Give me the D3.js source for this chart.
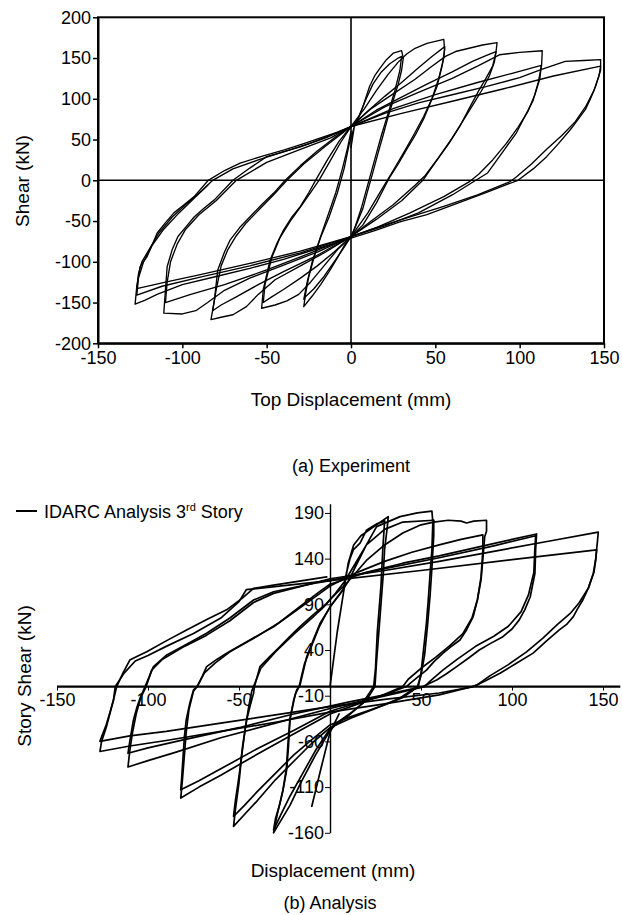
<!DOCTYPE html>
<html>
<head>
<meta charset="utf-8">
<script src="https://cdn.jsdelivr.net/npm/d3@7"></script>
<style>
  html, body { margin: 0; padding: 0; background: #fff; }
  svg { display: block; }
  text { font-family: Arial, "Liberation Sans", Helvetica, sans-serif; fill: #000; }
</style>
</head>
<body>
<svg id="chart" width="622" height="915"></svg>
<script>
// ---------- (a) Experiment: tick values ----------
const expXTicks = [-150, -100, -50, 0, 50, 100, 150];
const expYTicks = [-200, -150, -100, -50, 0, 50, 100, 150, 200];

// ---------- (a) Experiment: hysteresis cycles [displacement mm, shear kN] ----------
const expCycle1 = [[0,40],[2,66],[4,74],[7,90],[11,115],[14,128],[17,137],[21,148],[25,156],[30,159],[31,150],[30,135],[28,118],[25,98],[22,78],[19,55],[16,33],[13,10],[10,-12],[7,-35],[3,-55],[0,-69],[-4,-80],[-8,-95],[-13,-112],[-18,-128],[-23,-142],[-28,-155],[-27,-140],[-25,-118],[-22,-95],[-18,-70],[-13,-45],[-8,-15],[-4,15],[-1,45],[2,66]];
const expCycle2 = [[2,66],[5,80],[9,100],[13,118],[18,133],[23,143],[28,150],[30,152],[29,135],[26,110],[22,82],[18,55],[14,25],[10,-5],[6,-35],[2,-60],[0,-69],[-5,-85],[-10,-100],[-16,-118],[-22,-133],[-27,-143],[-28,-146],[-26,-125],[-23,-100],[-19,-75],[-14,-45],[-9,-15],[-5,15],[-2,40],[0,60]];
const expCycle3 = [[0,66],[8,88],[15,110],[22,130],[28,145],[33,155],[38,162],[45,168],[55,173],[55.5,160],[54,140],[51,115],[47,95],[43,75],[38,55],[33,38],[28,20],[23,4],[15,-28],[7,-55],[0,-69],[-8,-85],[-16,-105],[-24,-125],[-31,-140],[-38,-148],[-45,-153],[-53,-157],[-52,-134],[-48,-98],[-44,-78],[-40,-61],[-35,-45],[-30,-32],[-25,-15],[-21,0],[-14,25],[-7,48],[0,66]];
const expCycle4 = [[0,66],[10,85],[20,103],[30,120],[40,138],[48,152],[55.6,164],[55,150],[52,125],[48,100],[43,78],[37,55],[31,33],[25,12],[18,-12],[10,-40],[0,-69],[-10,-88],[-20,-105],[-30,-120],[-40,-134],[-47,-143],[-52,-150],[-51,-128],[-47,-95],[-42,-70],[-36,-50],[-30,-33],[-24,-15],[-19,0],[-12,25],[-6,47],[0,66]];
const expCycle5 = [[0,66],[12,88],[25,106],[38,124],[48,140],[56,152],[62,158],[70,162],[78,166],[86.6,169],[86,158],[84,140],[80,125],[76,111],[70,88],[64.5,66],[58,45],[50,22],[42.6,0],[30,-25],[15,-48],[0,-69],[-15,-88],[-30,-105],[-45,-122],[-55,-140],[-62,-155],[-70,-165],[-77,-168],[-83,-171],[-81,-147],[-79,-110],[-75,-88],[-71.6,-73],[-66,-58],[-60,-45],[-53,-30],[-46,-16],[-39,0],[-30,18],[-20,36],[-10,52],[0,66]];
const expCycle6 = [[0,66],[15,86],[30,102],[45,118],[60,133],[72,146],[80,153],[86,158],[85,145],[82,128],[78,112],[73,95],[67,75],[60,52],[52,28],[44,6],[38,-6],[25,-30],[12,-50],[0,-69],[-20,-92],[-40,-112],[-55,-128],[-68,-143],[-77,-153],[-82,-160],[-80,-135],[-77,-105],[-73,-85],[-68,-68],[-62,-52],[-54,-35],[-46,-18],[-38,0],[-28,20],[-15,42],[0,66]];
const expCycle7 = [[0,66],[20,90],[40,108],[60,125],[75,140],[88,154],[100,157],[113.4,159],[113,141],[111,120],[108,98],[103,78],[98,58],[90,35],[81,9],[74,0],[60,-18],[40,-40],[20,-56],[0,-69],[-20,-88],[-40,-104],[-60,-120],[-75,-135],[-85,-150],[-92,-160],[-100,-164],[-111,-163],[-110,-134],[-109,-106],[-106,-85],[-102.6,-69],[-97,-55],[-93,-45],[-87,-34],[-81,-24],[-70,0],[-60,15],[-50,29],[-30,41],[-15,52],[0,66]];
const expCycle8 = [[0,66],[25,88],[50,105],[75,120],[95,131],[112.8,141],[112,125],[109,105],[105,85],[99,65],[92,45],[84,25],[76,8],[70,-2],[55,-20],[35,-40],[15,-58],[0,-69],[-25,-90],[-50,-110],[-75,-128],[-95,-140],[-110,-150],[-109,-125],[-107,-100],[-103,-78],[-98,-60],[-90,-42],[-80,-25],[-68,0],[-50,22],[-30,38],[-12,52],[0,66]];
const expCycle9 = [[0,66],[20,82],[40,95],[60,105],[80,115],[100,126],[113,136],[127,146],[138,147],[148,148],[148,135],[145,115],[142,100],[139,87],[134,73],[130,62],[123,45],[116,29],[108,14],[99,0],[80,-15],[64.5,-27],[45,-42],[29,-51],[15,-61],[0,-71],[-20,-84],[-40,-97],[-60,-108],[-80,-118],[-100,-128],[-115,-140],[-122,-147],[-128,-152],[-127,-130],[-125,-106],[-121,-94],[-118,-80],[-115,-65],[-110,-52],[-105,-40],[-99,-30],[-93,-20],[-84.6,0],[-75,12],[-65.7,21],[-52,30],[-40,37],[-28,45],[-18,52],[-8,59],[0,66]];
const expCycle10 = [[0,66],[30,82],[60,97],[90,112],[120,128],[148,140],[147,128],[144,110],[139,90],[133,72],[125,55],[116,38],[107,20],[98,4],[94,-2],[75,-18],[55,-32],[35,-45],[15,-58],[0,-69],[-30,-87],[-60,-102],[-90,-116],[-110,-125],[-127,-133],[-126,-115],[-124,-100],[-120,-86],[-114,-65],[-106,-45],[-97,-28],[-88,-12],[-82,0],[-70,14],[-55,25],[-40,35],[-25,45],[-10,57],[0,66]];
const expCycle11 = [[0,-69],[-30,-89],[-60,-105],[-90,-119],[-112,-130],[-127,-141],[-126,-120],[-123,-100],[-118,-80],[-111,-60],[-102,-40],[-93,-22],[-85,-6]];
const expCycles = [expCycle1, expCycle2, expCycle3, expCycle4, expCycle5, expCycle6, expCycle7, expCycle8, expCycle9, expCycle10, expCycle11];

// ---------- (b) Analysis: tick values ----------
const anaXTicks = [-150, -100, -50, 50, 100, 150];
const anaYTicks = [190, 140, 90, 40, -10, -60, -110, -160];

// ---------- (b) Analysis: hysteresis cycles [displacement mm, story shear kN] ----------
const anaCycle1 = [[0,0],[2,30],[4,60],[6,85],[8,110],[10,135],[13,155],[17,165],[22,172],[27,179],[32,186],[31.5,175],[30,150],[29.3,124],[28,90],[26.5,51],[25.5,25],[24.7,0],[20,-15],[12,-28],[5,-38],[0,-46],[-8,-70],[-15,-95],[-22,-120],[-27,-140],[-31,-157],[-30,-145],[-27.5,-128],[-25.5,-110],[-23.8,-91],[-22.8,-65],[-22,-36.5],[-20,-15],[-18.3,-3.7],[-16.5,1.4],[-12.8,32.7],[-9,52],[-5.5,69],[0,87],[4,98],[7.3,106],[9,124],[11,140],[12.8,149.5],[16.5,157],[20,171],[25.6,178],[30,181]];
const anaCycle2 = [[30,181],[29,150],[28,110],[26,60],[25,20],[24,0],[18,-18],[10,-32],[3,-42],[0,-48],[-8,-75],[-16,-105],[-22,-130],[-28,-150],[-31,-160],[-29,-140],[-26,-115],[-24,-90],[-23,-60],[-22,-35],[-19,-8],[-17,0],[-14,25],[-10,45],[-6,65],[-2,80],[0,87]];
const anaCycle3 = [[0,87],[5,100],[10,115],[15,135],[20,155],[25.6,175],[38.5,186],[48,190],[56,192],[56.5,180],[56,150],[55,124],[54,95],[53,70],[51,33],[50,15],[48.5,0],[40,-12],[30,-20],[20,-27],[10,-34],[0,-42],[-10,-58],[-20,-75],[-30,-95],[-40,-115],[-47,-130],[-53,-142],[-52,-125],[-50.5,-105],[-49.5,-91],[-48,-65],[-45.8,-36.5],[-43.5,-18],[-42,-7.3],[-41.5,0],[-38.5,21.8],[-33,33],[-27.5,43.7],[-22,55],[-16.5,65.5],[-9,79],[-1.8,91],[3,102],[8,115],[14,135],[20,155],[30,172],[40,180],[57,182]];
const anaCycle4 = [[57,182],[57,165],[56,130],[55,100],[53.5,65],[52,35],[50,12],[48,0],[38,-13],[25,-24],[12,-34],[0,-45],[-10,-62],[-20,-82],[-30,-102],[-40,-125],[-47,-140],[-53,-153],[-52,-135],[-50,-105],[-48.5,-75],[-46.5,-45],[-44.5,-20],[-43,-5],[-42,0],[-38,20],[-30,38],[-20,57],[-10,75],[-3,88],[0,95]];
const anaCycle5 = [[0,95],[10,115],[20,138],[30,155],[40,168],[50,177],[57,180],[65,182],[72,181],[75,179],[79,181],[86,182],[86,170],[85,164],[84,140],[83,117],[81,95],[78.7,76.5],[75,62],[71.4,51],[66,43],[62,36.4],[57,27],[53,18],[48,10],[44,3.6],[42,0],[30,-9],[15,-18],[0,-27],[-20,-48],[-40,-68],[-60,-90],[-72,-103],[-82,-113],[-81.5,-100],[-80.6,-73],[-80,-55],[-79,-36.5],[-77,-18],[-75,-3.7],[-73,0],[-70,12],[-67.8,21.8],[-62,30],[-56.8,36.4],[-45,50],[-31,65.5],[-18,84],[-5.5,102],[0,110]];
const anaCycle6 = [[0,110],[15,125],[30,137],[45,147],[60,155],[72,161],[84,166],[84,150],[83,120],[81,95],[78,75],[73,58],[66,45],[58,32],[50,20],[43,8],[40,0],[28,-10],[14,-20],[0,-30],[-20,-52],[-40,-74],[-60,-97],[-72,-110],[-82,-122],[-81,-100],[-80,-75],[-79,-50],[-77.5,-25],[-75,-5],[-73,0],[-69,15],[-63,26],[-55,38],[-40,55],[-28,70],[-15,90],[-5,105],[0,112]];
const anaCycle7 = [[0,112],[20,125],[40,135],[60,143],[80,152],[100,161],[113.5,167],[113,150],[112.6,124],[110,98],[107,84],[104,73],[100,63],[95,54.6],[88,47],[82,40],[76,31],[69.6,21.8],[64,14],[58.6,7.2],[51,0],[30,-9],[10,-17],[-20,-30],[-50,-45],[-80,-58],[-100,-67],[-111,-73],[-110,-60],[-108,-36.5],[-106,-22],[-104,-11],[-101.6,0],[-97,21.8],[-89.7,34.6],[-80,45],[-67.8,58.3],[-55,75],[-42,94.7],[-31,103.8],[-9,113],[0,116]];
const anaCycle8 = [[0,116],[30,129],[60,141],[90,154],[113,165],[112.5,148],[112,125],[109,100],[105,82],[98,66],[90,55],[80,44],[70,30],[62,18],[55,6],[52,0],[35,-8],[15,-17],[0,-24],[-30,-40],[-60,-56],[-85,-72],[-100,-81],[-111,-88],[-110,-70],[-108.5,-50],[-106.5,-30],[-104,-12],[-101,0],[-98,18],[-92,30],[-80,44],[-68,56],[-55,72],[-42,92],[-31,102],[-15,110],[0,118]];
const anaCycle9 = [[0,118],[30,127],[60,137],[90,148],[120,159],[147.4,169],[147,160],[146,140],[144.7,124],[142,108],[139,95],[136,85],[133.7,76.5],[130,68],[126,62],[119,50],[111.6,36.6],[102,25],[93.4,14.6],[86,7],[79,0],[60,-7],[30,-14],[0,-22],[-30,-31],[-60,-40],[-90,-49],[-110,-54],[-126.4,-60],[-125.5,-55],[-123,-42],[-121,-29],[-119,-15],[-117.2,0],[-114,14],[-110,29],[-105,34],[-100.7,38],[-90,50],[-78.8,62],[-68,73],[-56.8,84],[-48,97],[-42,107.5],[-31,111],[-15,116],[-1.8,120]];
const anaCycle10 = [[-46,106],[0,116],[50,127],[100,139],[146.5,149.5],[146,138],[145,125],[142,108],[137,92],[132,80],[125,68],[117,53],[108,38],[98,24],[88,12],[81,2],[78,0],[60,-9],[30,-19],[0,-28],[-30,-39],[-60,-49],[-90,-59],[-110,-65],[-126.4,-71],[-125.5,-60],[-123,-45],[-121,-30],[-119,-15],[-118,0],[-113,15],[-107,28],[-100,34],[-90,44],[-75,58],[-60,75],[-50,93],[-46,106]];
const anaCycle11 = [[5,-30],[0,-50],[-5,-90],[-10,-131]];
const anaCycles = [anaCycle1, anaCycle2, anaCycle3, anaCycle4, anaCycle5, anaCycle6, anaCycle7, anaCycle8, anaCycle9, anaCycle10, anaCycle11];

const legendLabel = "IDARC Analysis 3";

// ================= drawing =================
const svg = d3.select("#chart");
const FONT_TICK = 18;
const fmt = d => String(d);   // plain hyphen-minus, as in the original

// ---------- chart (a) ----------
const xA = d3.scaleLinear().domain([-150, 150]).range([98, 604]);
const yA = d3.scaleLinear().domain([-200, 200]).range([343.3, 17.3]);
const gA = svg.append("g");

const lineA = d3.line().x(d => xA(d[0])).y(d => yA(d[1]));
gA.append("g").selectAll("path").data(expCycles).join("path")
  .attr("d", lineA)
  .attr("fill", "none").attr("stroke", "#000").attr("stroke-width", 1.35)
  .attr("stroke-linejoin", "round").attr("stroke-linecap", "round");

// zero lines
gA.append("line").attr("x1", xA(0)).attr("x2", xA(0)).attr("y1", yA(200)).attr("y2", yA(-200))
  .attr("stroke", "#000").attr("stroke-width", 1.6);
gA.append("line").attr("x1", xA(-150)).attr("x2", xA(150)).attr("y1", yA(0)).attr("y2", yA(0))
  .attr("stroke", "#000").attr("stroke-width", 1.6);

// frame
gA.append("rect").attr("x", xA(-150)).attr("y", yA(200))
  .attr("width", xA(150) - xA(-150)).attr("height", yA(-200) - yA(200))
  .attr("fill", "none").attr("stroke", "#000").attr("stroke-width", 2);

const axALeft = gA.append("g").attr("transform", `translate(${xA(-150)},0)`)
  .call(d3.axisLeft(yA).tickValues(expYTicks).tickFormat(fmt).tickSize(5).tickPadding(2).tickSizeOuter(0));
const axABottom = gA.append("g").attr("transform", `translate(0,${yA(-200)})`)
  .call(d3.axisBottom(xA).tickValues(expXTicks).tickFormat(fmt).tickSize(5).tickPadding(3).tickSizeOuter(0));
[axALeft, axABottom].forEach(ax => {
  ax.select(".domain").attr("stroke", "#000").attr("stroke-width", 2);
  ax.selectAll(".tick line").attr("stroke", "#000").attr("stroke-width", 1.5);
  ax.selectAll(".tick text").attr("font-size", FONT_TICK).attr("fill", "#000")
    .attr("font-family", "Arial, 'Liberation Sans', sans-serif");
});

gA.append("text").attr("transform", "translate(29,181) rotate(-90)")
  .attr("text-anchor", "middle").attr("font-size", 19).text("Shear (kN)");
gA.append("text").attr("x", 351).attr("y", 406).attr("text-anchor", "middle")
  .attr("font-size", 19).text("Top Displacement (mm)");
gA.append("text").attr("x", 351).attr("y", 472).attr("text-anchor", "middle")
  .attr("font-size", 18).text("(a) Experiment");

// ---------- chart (b) ----------
const xB = d3.scaleLinear().domain([-150, 150]).range([57, 603]);
const yB = d3.scaleLinear().domain([-160, 200]).range([832.8, 503.8]);
const gB = svg.append("g");

const lineB = d3.line().x(d => xB(d[0])).y(d => yB(d[1]));
gB.append("g").selectAll("path").data(anaCycles).join("path")
  .attr("d", lineB)
  .attr("fill", "none").attr("stroke", "#000").attr("stroke-width", 1.7)
  .attr("stroke-linejoin", "round").attr("stroke-linecap", "round");

// x axis (at zero shear), extends slightly beyond 150
gB.append("line").attr("x1", xB(-150)).attr("x2", xB(159.5)).attr("y1", yB(0)).attr("y2", yB(0))
  .attr("stroke", "#000").attr("stroke-width", 2.2);
const axBBottom = gB.append("g").attr("transform", `translate(0,${yB(0)})`)
  .call(d3.axisBottom(xB).tickValues(anaXTicks).tickFormat(fmt).tickSize(4).tickPadding(3).tickSizeOuter(0));
axBBottom.select(".domain").remove();

// y axis at zero displacement
const axBLeft = gB.append("g").attr("transform", `translate(${xB(0)},0)`)
  .call(d3.axisLeft(yB).tickValues(anaYTicks).tickFormat(fmt).tickSize(5).tickPadding(1).tickSizeOuter(0));
axBLeft.select(".domain").attr("stroke", "#000").attr("stroke-width", 1.4);
[axBBottom, axBLeft].forEach(ax => {
  ax.selectAll(".tick line").attr("stroke", "#000").attr("stroke-width", 1);
  ax.selectAll(".tick text").attr("font-size", FONT_TICK).attr("fill", "#000")
    .attr("font-family", "Arial, 'Liberation Sans', sans-serif");
});

gB.append("text").attr("transform", "translate(31,676) rotate(-90)")
  .attr("text-anchor", "middle").attr("font-size", 19).text("Story Shear (kN)");
gB.append("text").attr("x", 333).attr("y", 877).attr("text-anchor", "middle")
  .attr("font-size", 19).text("Displacement (mm)");
gB.append("text").attr("x", 330).attr("y", 909).attr("text-anchor", "middle")
  .attr("font-size", 18).text("(b) Analysis");

// legend
const lg = gB.append("g");
lg.append("line").attr("x1", 16).attr("x2", 37).attr("y1", 511).attr("y2", 511)
  .attr("stroke", "#000").attr("stroke-width", 2);
const lt = lg.append("text").attr("x", 44).attr("y", 518).attr("font-size", 18);
lt.append("tspan").text(legendLabel);
lt.append("tspan").attr("font-size", 11).attr("dy", -7).text("rd");
lt.append("tspan").attr("dy", 7).text(" Story");
</script>
</body>
</html>
